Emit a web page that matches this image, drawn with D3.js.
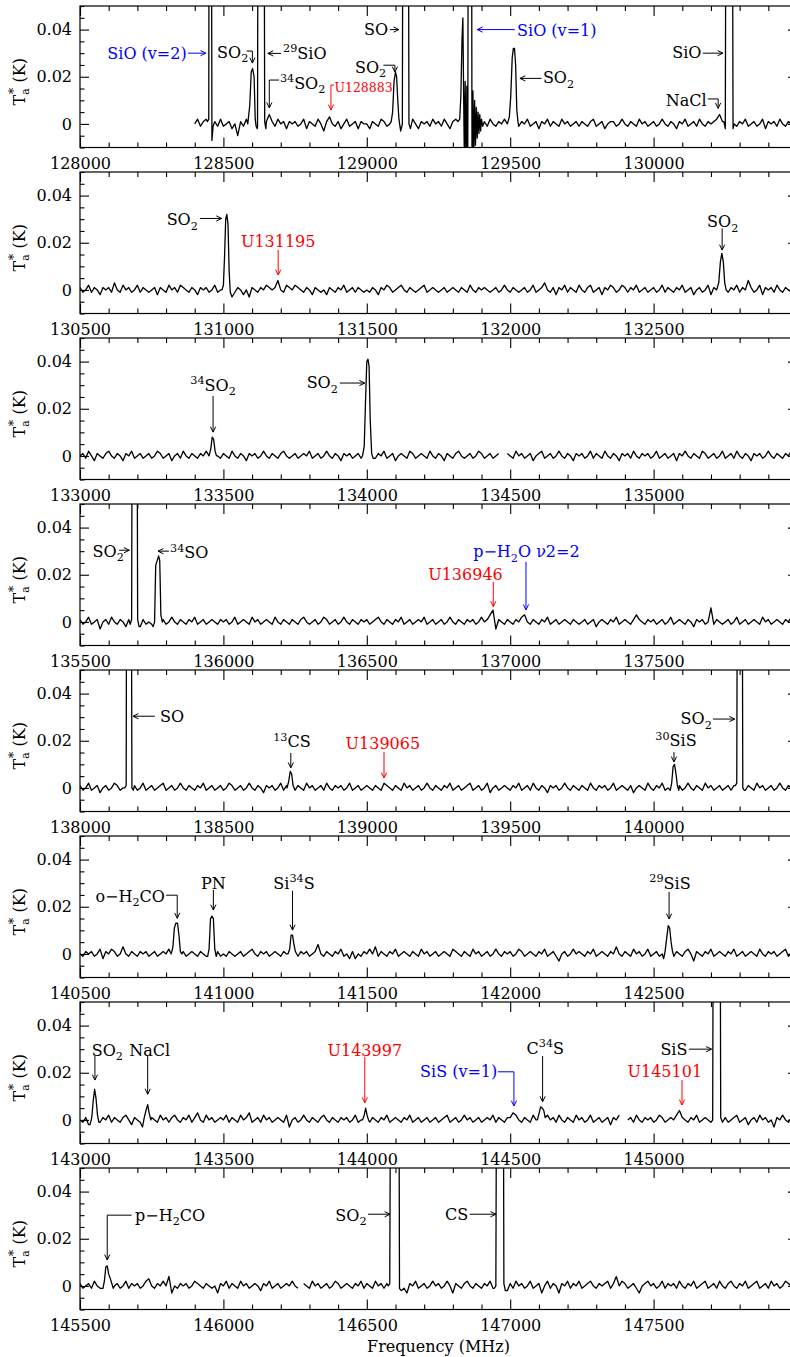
<!DOCTYPE html>
<html><head><meta charset="utf-8">
<script src="https://cdn.jsdelivr.net/npm/d3@7"></script>
<style>
body{margin:0;background:#fff}
svg{display:block}
text{font-family:"DejaVu Serif",serif}
</style>
</head><body>
<svg id="c" width="790" height="1357"></svg>
<script>
// ---------------- DATA (antenna temperature in mK, frequency in MHz) ----------------
const panelStarts = [128000,130500,133000,135500,138000,140500,143000,145500];
const panelSpan = 2500;
const channelStep = 10;
const baseStarts = [128400,130500,133000,135500,138000,140500,143000,145500];

const base1 = [0,2,-1,1,2,0,-2,1,-1,2,
 -1,0,1,-2,0,-5,1,-1,2,0,0,0,0,0,0,1,4,1,-1,2,0,1,-2,1,0,
 1,-1,0,2,-2,1,0,-1,2,0,-3,1,3,0,-1,1,-2,0,2,-1,0,1,-2,1,0,
 0,-2,1,0,-1,2,1,-1,0,1,0,0,0,0,0,-1,2,0,-2,1,0,1,-1,2,0,
 1,-1,2,0,-2,1,2,0,0,0,0,0,0,0,0,0,1,-1,2,0,-1,1,0,2,0,
 0,0,0,-1,1,0,2,-1,0,1,-2,1,0,2,-1,1,0,-1,2,0,1,-1,0,1,-1,
 1,0,-1,1,2,-1,0,1,-2,0,1,1,-1,0,2,0,-1,1,0,-1,2,0,1,-1,0,
 1,-1,0,2,0,-1,1,0,-2,1,0,2,-1,0,1,-1,2,0,-1,1,0,1,2,4,1,
 0,0,0,0,-1,1,0,2,-1,0,1,-1,0,2,-2,1,0,1,-1,2,0,-1,1,0,1];
const base2 = [1,-1,0,2,-1,1,0,-2,1,0,1,-1,3,0,-1,2,0,1,-1,0,2,-1,1,0,-1,
 0,1,-2,1,0,-1,2,0,1,-1,2,1,0,-1,1,0,-2,1,0,1,-1,0,2,-1,0,
 0,0,0,0,-1,1,0,-2,0,-3,1,0,-1,1,0,2,1,0,1,4,0,-1,2,1,0,
 2,1,0,-1,1,0,-2,1,0,-1,0,-2,1,0,-1,1,0,2,-1,0,1,-1,1,0,-1,
 0,-1,1,0,-2,1,0,2,1,-1,0,1,2,0,-1,1,0,-1,0,1,2,-1,0,1,0,
 -1,0,1,-1,0,1,0,-1,1,0,-1,2,0,-1,1,0,1,0,-1,0,1,-1,0,2,0,
 -1,1,0,-1,0,1,-1,0,2,-1,0,1,3,0,-1,1,-2,1,0,2,-1,1,0,-1,2,
 0,-1,1,2,-1,0,1,-2,1,0,2,1,-1,0,2,1,-1,1,0,2,-1,0,1,-1,0,
 1,-1,0,2,-1,1,0,-1,1,0,2,-1,0,1,-2,0,1,-1,0,2,-2,1,0,0,0,
 0,-1,1,0,2,-1,1,0,4,1,-1,0,2,-2,1,0,1,-1,2,0,-1,1,0,-1,1];
const base3 = [0,1,-1,2,0,-2,1,0,-1,1,2,0,-1,1,0,-2,1,0,2,-1,0,1,-1,0,1,
 -1,0,2,1,-1,0,1,-2,0,1,-1,2,0,-1,1,0,-1,1,0,2,0,0,0,0,-1,
 1,0,-1,2,0,-1,1,0,-2,1,0,1,-1,0,2,0,-1,1,0,-1,1,2,0,-1,0,
 1,-1,0,1,0,2,-1,0,1,-1,0,2,0,-1,1,0,-2,1,0,1,-1,0,1,-1,0,
 0,0,0,-1,1,0,2,-1,0,1,-2,0,1,0,-1,2,1,-1,0,1,0,-1,2,0,-1,
 1,0,-2,1,0,-1,1,2,0,-1,0,1,-1,0,2,1,-1,0,1,-1,0,1,null,null,1,
 0,-1,2,0,1,-1,0,1,-2,0,1,2,-1,0,1,-1,0,2,0,-1,1,0,-2,1,0,
 1,-1,0,2,-1,1,0,-1,2,0,-1,1,0,-2,1,0,1,-1,2,0,-1,1,0,1,-1,
 0,2,-1,0,1,-1,0,1,-2,1,0,2,0,-1,1,0,-1,2,1,-1,0,1,-1,0,2,
 -1,0,1,-1,2,0,-1,1,0,-2,1,0,1,-1,0,2,0,-1,1,0,-1,1,0,2,0];
const base4 = [1,-1,0,2,-1,0,1,-3,0,1,-1,2,0,-1,1,0,-2,1,0,0,0,-2,1,-1,0,
 -1,0,0,0,1,-1,0,2,0,-1,1,0,-1,1,0,2,-1,0,1,-1,0,1,0,-1,1,
 0,1,-1,0,2,-1,0,1,0,-1,2,0,1,-1,0,1,0,-1,2,0,-1,1,0,-1,1,
 0,-1,1,2,0,-1,0,1,-1,0,2,1,-1,0,1,-1,0,2,0,-1,1,0,-1,1,0,
 1,-1,0,1,2,0,-1,1,0,-1,1,0,2,-1,0,1,-1,0,1,0,2,-1,0,1,-1,
 0,1,-1,0,2,0,-1,1,0,-1,1,0,1,-1,0,2,0,1,3,5,-3,1,0,-1,1,
 0,-1,1,0,2,3,0,-1,1,0,-1,1,0,2,-1,0,1,-1,0,1,0,-1,1,0,-1,
 0,1,-1,0,1,-2,0,1,0,-1,1,0,2,-1,0,1,0,-1,1,3,1,0,-1,1,0,
 1,-1,0,1,-1,0,2,-1,0,1,0,-1,1,0,-2,1,0,1,-1,0,6,-1,1,0,-1,
 0,1,-1,0,2,-1,0,1,-1,0,1,0,-1,2,0,1,-1,0,1,0,-1,1,0,2,0];
const base5 = [1,-1,0,2,-1,0,1,-2,0,1,-1,0,2,1,-1,0,0,0,0,1,-1,0,2,-1,0,
 1,-1,0,1,2,-1,0,1,-1,0,2,0,-1,1,0,-1,1,0,2,-1,0,1,-1,0,1,
 -1,0,2,1,-1,0,1,-1,0,2,0,-1,1,0,-2,1,0,1,-1,0,2,-1,1,0,0,
 -1,1,0,-1,2,0,1,-1,0,1,-1,2,0,-1,1,0,1,-1,0,2,-1,0,1,-1,0,
 1,0,-1,1,0,-1,2,1,0,-1,1,0,-1,2,0,1,-1,0,1,-1,0,2,0,-1,1,
 0,-1,1,0,2,-1,0,1,-1,0,1,2,-1,0,1,-1,0,2,-2,0,1,-1,0,1,0,
 -1,1,0,2,-1,0,1,-1,2,0,-1,1,0,-2,1,0,1,-1,0,2,0,-1,1,0,-1,
 1,0,-1,2,0,-1,1,0,1,-1,0,2,-1,0,1,0,-1,1,-2,0,1,0,-1,2,0,
 -1,1,0,2,-1,0,0,0,0,1,-1,0,2,0,-1,1,0,-1,2,0,1,-1,0,1,-1,
 0,1,-1,1,0,0,0,-1,1,0,-1,2,0,1,-1,0,1,-1,0,2,0,-1,1,0,1];
const base6 = [0,-1,1,0,1,-1,0,2,-2,1,0,2,1,-1,0,3,0,-1,1,0,-1,1,0,1,-1,
 0,1,-1,0,1,0,2,0,0,0,0,1,-1,0,1,0,-1,1,0,-1,0,0,0,1,-1,
 0,-1,1,0,-1,0,1,-1,0,1,2,0,-1,1,0,1,-1,0,1,0,-1,1,0,0,0,
 0,-1,1,0,1,-1,0,1,4,0,-1,1,0,-1,1,0,2,-1,0,-2,1,-2,0,-1,1,
 0,2,0,3,-1,1,0,-1,1,0,2,-1,0,1,0,-1,1,0,-1,2,0,1,-1,0,1,
 -1,0,1,0,-1,2,1,0,-1,1,0,-1,2,0,1,-1,0,1,-1,0,2,0,-1,1,0,
 1,-1,0,2,1,-1,0,1,0,-1,1,0,2,-1,0,1,-1,-3,0,1,-1,0,2,0,1,
 0,-1,1,0,2,-1,0,1,0,-1,1,0,3,0,-1,1,0,-1,2,0,1,-1,0,2,-1,
 0,1,-1,0,0,0,0,0,1,0,-1,1,2,0,-3,1,0,-1,1,0,2,-1,0,1,0,
 -1,1,0,2,-1,0,1,-1,0,1,0,-1,2,0,-1,1,0,1,-1,0,1,2,-1,0,1];
const base7 = [0,-1,1,-2,0,0,0,-1,1,0,2,-1,1,0,-1,1,2,0,-2,1,0,-1,0,0,0,
 1,0,-1,2,0,1,-1,1,2,0,-1,1,0,2,-1,1,3,0,-1,2,0,1,-1,0,1,
 0,2,-1,1,0,-1,2,0,1,3,-1,0,1,-1,2,0,1,-1,0,1,0,-1,2,-3,0,
 1,-1,0,2,0,-1,1,0,-1,1,2,0,-1,1,0,-1,1,0,1,-1,0,2,-1,0,0,
 0,-1,1,0,-1,1,0,2,-1,0,1,0,-1,1,0,2,-1,0,1,-1,0,1,-1,0,1,
 -1,0,1,2,-1,0,1,-1,0,2,0,1,-1,0,1,-1,0,1,0,2,-1,1,0,-1,1,
 1,3,2,0,-1,1,0,-1,2,0,0,0,0,2,0,1,-1,2,0,-1,1,0,-1,2,0,
 1,-1,0,2,-1,0,1,-1,0,1,-2,1,0,2,null,null,0,1,-1,2,0,-1,1,0,1,
 -1,0,2,1,-1,0,1,0,2,4,1,0,-1,1,0,2,-1,0,1,0,0,0,0,0,0,
 1,-1,0,1,2,-1,0,1,-2,0,1,-1,2,0,1,-1,0,-3,1,0,2,0,-1,1,0];
const base8 = [1,-1,0,1,-1,2,0,-1,0,0,0,0,0,1,-1,0,2,-1,1,0,1,-1,0,2,3,
 0,-1,1,0,2,0,4,-3,0,-1,1,0,1,-1,0,2,1,0,-1,1,0,-1,0,-3,1,
 0,2,-1,1,0,-1,2,0,1,-1,0,1,0,-2,1,0,2,-1,0,1,-1,0,1,0,2,
 0,-1,null,1,0,-1,2,0,1,-1,0,1,-1,0,2,1,-1,0,1,0,-1,1,0,2,-1,
 1,0,-1,2,0,1,-1,1,0,0,0,0,0,-1,-3,1,0,2,-1,0,1,-1,0,2,0,
 1,-1,0,2,0,-3,1,0,-1,1,2,0,-1,1,0,-1,1,0,2,-1,0,0,0,0,-2,
 1,-1,2,0,1,-1,0,2,-1,0,1,-3,0,2,-1,1,0,-3,1,0,2,-1,1,0,2,
 -1,0,1,2,0,-1,1,0,1,2,-1,1,4,0,2,1,-1,0,1,-1,-3,0,1,2,0,
 1,-1,0,2,-1,1,0,1,-1,2,0,-1,1,0,2,-1,0,1,2,-1,0,1,-1,2,0,
 -1,1,2,0,-1,1,0,2,-1,0,1,2,-1,0,1,-1,2,0,1,-1,0,2,1,0,1];

// spectral lines: explicit [MHz, mK] points (values > 50 mK are off scale)
const lines1 = [
 [[128444,1],[128449,2],[128451,200],[128457,200],[128460,-7],[128464,-1]],
 [[128585,0],[128592,8],[128597,22],[128602,23.5],[128607,20],[128611,2],[128614,-1],[128618,-2]],
 [[128619,-1],[128622,200],[128640,200],[128644,1],[128648,-2]],
 [[129085,1],[129090,5],[129095,18],[129100,22],[129104,20],[129108,10],[129112,2]],
 [[129118,-3],[129124,0],[129127,200],[129143,200],[129147,0],[129152,-2]],
 [[129318,1],[129324,2],[129328,12],[129332,36],[129335,45],[129338,8],[129340,-14],[129343,18],[129346,-20],[129349,16],[129352,-22],[129355,200],[129364,200],[129367,-30],[129370,14],[129373,-14],[129376,10],[129379,-9],[129382,7],[129385,-6],[129388,5],[129391,-4],[129394,4],[129397,-3],[129400,2],[129404,-1]],
 [[129490,0],[129497,3],[129502,12],[129507,28],[129511,32],[129515,32],[129519,25],[129523,6],[129527,1]],
 [[130245,1],[130250,-2],[130254,200],[130273,200],[130277,-2],[130281,0]]
];
const lines2 = [
 [[130995,0],[131000,2],[131004,14],[131008,30],[131012,32],[131016,28],[131020,8],[131024,-1],[131030,-3]],
 [[132720,0],[132727,3],[132733,12],[132738,15.5],[132743,12],[132748,3],[132753,0]]
];
const lines3 = [
 [[133450,0],[133456,3],[133461,8],[133466,7],[133471,2],[133476,0]],
 [[133985,0],[133991,4],[133996,25],[134000,40],[134004,41],[134008,38],[134012,15],[134017,1],[134022,-1]]
];
const lines4 = [
 [[135675,-1],[135680,1],[135684,200],[135697,200],[135701,1],[135706,-2]],
 [[135755,-2],[135760,0],[135764,24],[135769,26],[135774,28],[135778,26],[135782,3],[135787,0]]
];
const lines5 = [
 [[138156,0],[138161,1],[138164,200],[138177,200],[138181,0],[138186,-1]],
 [[138722,0],[138728,3],[138733,7],[138738,6],[138743,1]],
 [[140058,-1],[140063,2],[140068,9],[140073,10],[140078,6],[140083,1],[140088,-1]],
 [[140285,1],[140290,2],[140294,200],[140307,200],[140311,0],[140316,-1]]
];
const lines6 = [
 [[140818,0],[140824,3],[140829,11],[140834,13],[140840,13],[140845,8],[140850,1],[140855,0]],
 [[140945,-1],[140950,2],[140955,15],[140960,16],[140965,15],[140970,2],[140975,-1]],
 [[141225,0],[141231,2],[141236,8],[141241,8],[141246,4],[141251,1]],
 [[142535,-2],[142540,1],[142546,7],[142551,12],[142556,11],[142561,5],[142566,1],[142571,-1]]
];
const lines7 = [
 [[143035,-2],[143041,1],[143046,8],[143051,13],[143056,9],[143061,2],[143066,-1]],
 [[143218,-3],[143224,1],[143230,4],[143236,6.5],[143241,3],[143247,0]],
 [[143985,0],[143991,2],[143996,5],[144001,2],[144006,0]],
 [[144595,0],[144601,3],[144606,5.5],[144612,5],[144617,4],[144622,1]],
 [[145200,-1],[145206,0],[145210,200],[145230,200],[145234,1],[145240,-1]]
];
const lines8 = [
 [[145580,-1],[145585,2],[145590,8],[145595,8.5],[145600,5],[145606,3],[145611,1],[145616,-1]],
 [[146575,0],[146580,1],[146586,200],[146610,200],[146614,-1],[146620,-2]],
 [[146945,-1],[146950,0],[146955,200],[146974,200],[146978,1],[146983,-2]]
];

const yTickValues = [0, 0.02, 0.04];
const yTickLabels = ["0", "0.02", "0.04"];

// line identifications: label anchor and arrow path in [MHz, mK]
const annotations = [
 {p:0, text:"SiO (v=2)", at:[128372,30], anchor:"end", color:"blue", path:[[128376,30],[128439,30]]},
 {p:0, text:"SO_2", at:[128478,30.4], anchor:"start", path:[[128581,30.9],[128601,30.9],[128601,25.8]]},
 {p:0, text:"^{29}SiO", at:[128708,30], anchor:"start", path:[[128701,29.9],[128655,29.9]]},
 {p:0, text:"^{34}SO_2", at:[128697,17.3], anchor:"start", path:[[128694,18.6],[128660,18.6],[128660,6.8]]},
 {p:0, text:"U128883", at:[128887,15.2], anchor:"start", color:"red", small:true, path:[[128886,16.5],[128875,16.5],[128875,5.9]]},
 {p:0, text:"SO", at:[129074,40], anchor:"end", path:[[129081,40],[129112,40]]},
 {p:0, text:"SO_2", at:[128959,24.1], anchor:"start", path:[[129058,24.9],[129098,24.9],[129098,22]]},
 {p:0, text:"SiO (v=1)", at:[129524,39.7], anchor:"start", color:"blue", path:[[129516,40],[129385,40]]},
 {p:0, text:"SO_2", at:[129614,19.5], anchor:"start", path:[[129609,19.3],[129534,19.3]]},
 {p:0, text:"SiO", at:[130167,30.3], anchor:"end", path:[[130172,30],[130242,30]]},
 {p:0, text:"NaCl", at:[130185,10.1], anchor:"end", path:[[130189,10.6],[130225,10.6],[130225,6.6]]},
 {p:1, text:"SO_2", at:[130911,29.9], anchor:"end", path:[[130918,30.3],[130994,30.3]]},
 {p:1, text:"U131195", at:[131191,20.4], anchor:"middle", color:"red", path:[[131191,16.9],[131191,6.3]]},
 {p:1, text:"SO_2", at:[132741,28.9], anchor:"middle", path:[[132739,26.1],[132739,16.9]]},
 {p:2, text:"^{34}SO_2", at:[133464,30], anchor:"middle", path:[[133464,25.4],[133464,10.1]]},
 {p:2, text:"SO_2", at:[133899,30.9], anchor:"end", path:[[133906,30.9],[133993,30.9]]},
 {p:3, text:"SO_2", at:[135544,30], anchor:"start", path:[[135636,30.4],[135672,30.4]]},
 {p:3, text:"^{34}SO", at:[135814,29.3], anchor:"start", path:[[135810,30],[135772,30]]},
 {p:3, text:"p\u2212H_2O \u03bd2=2", at:[136871,29.7], anchor:"start", color:"blue", path:[[137055,25.5],[137055,5.1]]},
 {p:3, text:"U136946", at:[136844,19.9], anchor:"middle", color:"red", path:[[136941,17],[136941,6.5]]},
 {p:4, text:"SO", at:[138279,30.4], anchor:"start", path:[[138261,30.4],[138185,30.4]]},
 {p:4, text:"^{13}CS", at:[138739,19.5], anchor:"middle", path:[[138735,14.8],[138735,8.5]]},
 {p:4, text:"U139065", at:[139056,19], anchor:"middle", color:"red", path:[[139060,15.2],[139060,4.2]]},
 {p:4, text:"^{30}SiS", at:[140078,19.9], anchor:"middle", path:[[140071,15.2],[140071,11]]},
 {p:4, text:"SO_2", at:[140203,29.2], anchor:"end", path:[[140207,29.2],[140283,29.2]]},
 {p:5, text:"o\u2212H_2CO", at:[140796,24.5], anchor:"end", path:[[140800,24.9],[140839,24.9],[140839,15.1]]},
 {p:5, text:"PN", at:[140965,29.9], anchor:"middle", path:[[140965,27.1],[140965,18.6]]},
 {p:5, text:"Si^{34}S", at:[141246,30], anchor:"middle", path:[[141241,26.8],[141241,10.1]]},
 {p:5, text:"^{29}SiS", at:[142557,29.9], anchor:"middle", path:[[142554,26.3],[142554,14.8]]},
 {p:6, text:"SO_2", at:[143041,29.6], anchor:"start", path:[[143052,27.1],[143052,16.9]]},
 {p:6, text:"NaCl", at:[143172,29.6], anchor:"start", path:[[143236,27.1],[143236,10.9]]},
 {p:6, text:"U143997", at:[143993,29.6], anchor:"middle", color:"red", path:[[143993,26.8],[143993,7.3]]},
 {p:6, text:"SiS (v=1)", at:[144455,20.4], anchor:"end", color:"blue", path:[[144457,20.4],[144513,20.4],[144513,5.9]]},
 {p:6, text:"C^{34}S", at:[144557,30.3], anchor:"start", path:[[144613,27.1],[144613,7.7]]},
 {p:6, text:"U145101", at:[145039,20.4], anchor:"middle", color:"red", path:[[145099,16.9],[145099,6.3]]},
 {p:6, text:"SiS", at:[145118,29.9], anchor:"end", path:[[145123,30],[145202,30]]},
 {p:7, text:"p\u2212H_2CO", at:[145692,30], anchor:"start", path:[[145680,30],[145595,30],[145595,11]]},
 {p:7, text:"SO_2", at:[146499,30], anchor:"end", path:[[146504,30.4],[146581,30.4]]},
 {p:7, text:"CS", at:[146854,30.4], anchor:"end", path:[[146859,30.4],[146950,30.4]]}
];

const bases = [base1,base2,base3,base4,base5,base6,base7,base8];
const lineSets = [lines1,lines2,lines3,lines4,lines5,lines6,lines7,lines8];

// ---------------- LAYOUT ----------------
const plotLeft = 80, plotRight = 797, firstTop = 6, panelStep = 166, panelH = 141.5;
const FS = 16, FONT = "DejaVu Serif, serif";
const palette = {black:"#000000", blue:"#0000ff", red:"#ff0000"};
const svg = d3.select("#c");

function rich(sel, str, size) {
  const parts = str.split(/(\^\{[^}]*\}|_\{[^}]*\}|\^.|_.)/).filter(s => s.length);
  let shift = 0;
  parts.forEach(p => {
    let t = p, s = 0, fs = size;
    if (p[0] === "^" || p[0] === "_") {
      t = p[1] === "{" ? p.slice(2, -1) : p.slice(1);
      s = p[0] === "^" ? -0.42 * size : 0.3 * size;
      fs = size * 0.7;
    }
    sel.append("tspan").attr("dy", s - shift).attr("font-size", fs).text(t);
    shift = s;
  });
}

function drawArrow(g, pts, color) {
  g.append("path").attr("d", d3.line()(pts)).attr("fill", "none")
    .attr("stroke", color).attr("stroke-width", 1);
  const [x1, y1] = pts[pts.length - 2], [x2, y2] = pts[pts.length - 1];
  const ang = Math.atan2(y2 - y1, x2 - x1), L = 6, a = 0.45;
  const head = [[x2 - L * Math.cos(ang - a), y2 - L * Math.sin(ang - a)], [x2, y2],
                [x2 - L * Math.cos(ang + a), y2 - L * Math.sin(ang + a)]];
  g.append("path").attr("d", d3.line()(head)).attr("fill", "none")
    .attr("stroke", color).attr("stroke-width", 1);
}

function styleAxis(g) {
  g.select(".domain").remove();
  g.attr("font-family", FONT).attr("font-size", FS);
  g.selectAll("line").attr("stroke", "#000").attr("stroke-width", 1.1);
  g.selectAll("text").attr("fill", "#000");
}

const scales = [];
panelStarts.forEach((start, i) => {
  const top = firstTop + i * panelStep, bottom = top + panelH;
  const end = start + panelSpan;
  const x = d3.scaleLinear().domain([start, end]).range([plotLeft, plotRight]);
  const y = d3.scaleLinear().domain([-0.01, 0.05]).range([bottom, top]);
  scales.push({x, y});
  const g = svg.append("g");
  const cid = "clip" + i;
  svg.append("clipPath").attr("id", cid).append("rect")
    .attr("x", plotLeft).attr("y", top).attr("width", plotRight - plotLeft).attr("height", panelH);

  // spectrum
  let pts = bases[i].map((v, k) => [baseStarts[i] + k * channelStep, v]);
  lineSets[i].forEach(grp => {
    const a = grp[0][0], b = grp[grp.length - 1][0];
    pts = pts.filter(d => d[0] < a || d[0] > b).concat(grp);
  });
  pts.sort((a, b) => a[0] - b[0]);
  const line = d3.line().defined(d => d[1] !== null)
    .x(d => x(d[0])).y(d => y(d[1] / 1000));
  g.append("path").attr("clip-path", `url(#${cid})`).attr("d", line(pts))
    .attr("fill", "none").attr("stroke", "#000").attr("stroke-width", 1.3)
    .attr("stroke-linejoin", "round");

  // frame
  g.append("rect").attr("x", plotLeft).attr("y", top)
    .attr("width", plotRight - plotLeft).attr("height", panelH)
    .attr("fill", "none").attr("stroke", "#000").attr("stroke-width", 1.2);

  const majors = d3.range(start, end + 1, 500);
  const minors = d3.range(start, end + 1, 100).filter(v => (v - start) % 500 !== 0);
  const yMinor = d3.range(-0.01, 0.0501, 0.005).filter(v => Math.abs(Math.round(v * 50) - v * 50) > 1e-6);

  const xb = g.append("g").attr("transform", `translate(0,${bottom})`)
    .call(d3.axisBottom(x).tickValues(majors).tickSizeInner(-10).tickSizeOuter(0).tickPadding(10)
      .tickFormat(d => d < end ? d3.format("d")(d) : ""));
  styleAxis(xb);
  const xbm = g.append("g").attr("transform", `translate(0,${bottom})`)
    .call(d3.axisBottom(x).tickValues(minors).tickSizeInner(-5).tickSizeOuter(0).tickFormat(""));
  styleAxis(xbm);
  const xt = g.append("g").attr("transform", `translate(0,${top})`)
    .call(d3.axisTop(x).tickValues(majors).tickSizeInner(-10).tickSizeOuter(0).tickFormat(""));
  styleAxis(xt);
  const xtm = g.append("g").attr("transform", `translate(0,${top})`)
    .call(d3.axisTop(x).tickValues(minors).tickSizeInner(-5).tickSizeOuter(0).tickFormat(""));
  styleAxis(xtm);

  const yl = g.append("g").attr("transform", `translate(${plotLeft},0)`)
    .call(d3.axisLeft(y).tickValues(yTickValues).tickSizeInner(-9).tickSizeOuter(0).tickPadding(8)
      .tickFormat((d, k) => yTickLabels[k]));
  styleAxis(yl);
  const ylm = g.append("g").attr("transform", `translate(${plotLeft},0)`)
    .call(d3.axisLeft(y).tickValues(yMinor).tickSizeInner(-4.5).tickSizeOuter(0).tickFormat(""));
  styleAxis(ylm);
  const yr = g.append("g").attr("transform", `translate(${plotRight},0)`)
    .call(d3.axisRight(y).tickValues(yTickValues).tickSizeInner(-9).tickSizeOuter(0).tickFormat(""));
  styleAxis(yr);
  const yrm = g.append("g").attr("transform", `translate(${plotRight},0)`)
    .call(d3.axisRight(y).tickValues(yMinor).tickSizeInner(-4.5).tickSizeOuter(0).tickFormat(""));
  styleAxis(yrm);

  // y label
  const cy = (top + bottom) / 2 + 5;
  const lab = g.append("text").attr("transform", `translate(25,${cy}) rotate(-90)`)
    .attr("text-anchor", "middle").attr("font-size", FS).attr("font-family", FONT);
  lab.append("tspan").text("T");
  lab.append("tspan").attr("dy", 4).attr("font-size", 11).text("a");
  lab.append("tspan").attr("dx", -6).attr("dy", -11).attr("font-size", 13).text("*");
  lab.append("tspan").attr("dy", 7).attr("font-size", FS).text("\u00a0(K)");
});

// annotations
annotations.forEach(a => {
  const {x, y} = scales[a.p];
  const col = palette[a.color || "black"];
  const size = a.small ? 12.5 : FS;
  const t = svg.append("text").attr("x", x(a.at[0])).attr("y", y(a.at[1] / 1000) + size * 0.34)
    .attr("text-anchor", a.anchor).attr("fill", col).attr("font-size", size)
    .attr("font-family", FONT).style("white-space", "pre");
  rich(t, a.text, size);
  drawArrow(svg, a.path.map(p => [x(p[0]), y(p[1] / 1000)]), col);
});

svg.append("text").attr("x", (plotLeft + plotRight) / 2).attr("y", 1352)
  .attr("text-anchor", "middle").attr("font-size", FS).attr("font-family", FONT)
  .text("Frequency (MHz)");
</script>
</body></html>
